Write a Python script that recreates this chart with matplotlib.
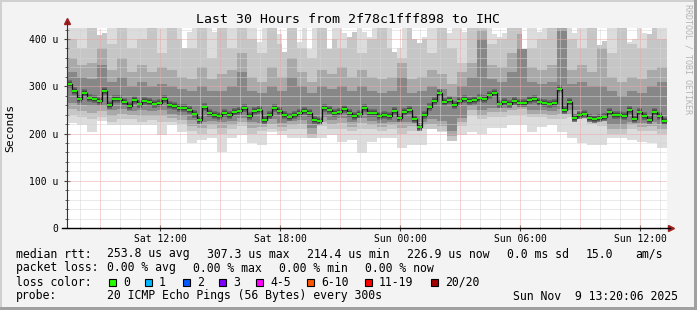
import numpy as np
import matplotlib
matplotlib.use("Agg")
import matplotlib.pyplot as plt
from matplotlib.patches import Rectangle
from matplotlib.lines import Line2D

# ---------------- data ----------------
t_start = 7 + 20 / 60 + 6 / 3600      # Sat 07:20:06 (hours from Sat 00:00)
t_end = t_start + 30

# median rtt, 15 minute steps (us)
median = [305, 291, 274, 285, 276, 273, 269, 289, 260, 272,
          272, 266, 259, 271, 263, 269, 267, 263, 264, 274,
          260, 258, 253, 255, 250, 242, 228, 256, 243, 240,
          238, 243, 240, 245, 248, 253, 236, 248, 250, 228,
          240, 253, 248, 239, 235, 240, 243, 248, 243, 228,
          227, 253, 249, 243, 246, 252, 244, 236, 241, 254,
          243, 243, 236, 240, 236, 247, 232, 245, 250, 231,
          214, 240, 257, 268, 285, 266, 271, 260, 268, 274,
          269, 271, 276, 274, 281, 285, 262, 267, 262, 268,
          264, 264, 270, 272, 267, 265, 262, 264, 295, 250,
          267, 233, 239, 241, 233, 230, 233, 234, 245, 240,
          240, 238, 250, 230, 245, 236, 228, 245, 238, 227]

# highest ping, 15 minute steps (values above the top are cut off)
ping_max = [450, 450, 450, 450, 450, 450, 408, 412, 450, 450,
            450, 450, 450, 450, 450, 450, 450, 450, 450, 450,
            450, 450, 450, 382, 415, 450, 450, 450, 450, 415,
            450, 450, 450, 450, 450, 450, 450, 450, 394, 450,
            450, 450, 410, 372, 450, 450, 394, 450, 378, 450,
            450, 450, 378, 450, 450, 412, 405, 415, 450, 415,
            405, 450, 450, 450, 450, 372, 380, 450, 450, 400,
            392, 405, 450, 450, 450, 450, 412, 450, 450, 415,
            450, 450, 450, 450, 450, 410, 405, 412, 450, 450,
            450, 378, 450, 450, 415, 450, 450, 450, 450, 450,
            450, 412, 450, 450, 450, 450, 387, 395, 450, 450,
            450, 450, 394, 400, 450, 412, 410, 450, 450, 450]

# smoke band edges, 30 minute steps (us)
ping_min = [222, 218, 204, 226, 218, 218, 218, 218, 218, 197,
            218, 204, 179, 186, 190, 161, 190, 197, 179, 176,
            204, 197, 190, 190, 197, 190, 197, 183, 186, 158,
            183, 190, 190, 169, 176, 176, 211, 204, 197, 197,
            204, 200, 211, 211, 218, 218, 204, 214, 218, 204,
            190, 179, 176, 176, 190, 190, 186, 183, 179, 169]
outer_lo = [240, 235, 230, 235, 225, 230, 230, 225, 228, 225,
            225, 220, 205, 200, 210, 200, 210, 215, 200, 205,
            210, 205, 210, 210, 190, 215, 210, 210, 205, 210,
            210, 205, 210, 200, 205, 210, 210, 205, 185, 215,
            240, 230, 235, 235, 240, 240, 235, 235, 230, 230,
            235, 230, 220, 215, 200, 200, 210, 205, 205, 200]
mid_lo = [252, 248, 244, 248, 238, 242, 240, 238, 238, 238,
          233, 228, 215, 212, 218, 212, 218, 224, 212, 214,
          220, 214, 218, 220, 200, 224, 220, 222, 214, 222,
          218, 214, 218, 212, 215, 218, 220, 216, 195, 224,
          250, 240, 245, 245, 250, 252, 242, 242, 240, 242,
          242, 240, 230, 226, 210, 210, 218, 214, 215, 210]
inner_lo = [265, 260, 258, 258, 250, 252, 248, 250, 248, 250,
            242, 238, 228, 225, 226, 224, 226, 232, 225, 222,
            230, 222, 226, 228, 212, 234, 228, 232, 224, 232,
            226, 222, 225, 224, 224, 225, 230, 226, 205, 232,
            258, 250, 255, 254, 260, 262, 250, 250, 248, 252,
            250, 250, 240, 236, 218, 218, 224, 222, 224, 220]
inner_hi = [330, 320, 315, 345, 310, 320, 300, 310, 300, 305,
            300, 295, 290, 300, 290, 290, 300, 330, 290, 285,
            300, 290, 320, 300, 285, 300, 295, 300, 290, 300,
            290, 285, 290, 320, 285, 290, 300, 295, 280, 300,
            320, 400, 315, 310, 330, 380, 310, 305, 310, 420,
            305, 310, 300, 300, 290, 280, 290, 285, 300, 310]
mid_hi = [360, 345, 350, 380, 335, 360, 330, 345, 330, 340,
          335, 320, 315, 340, 315, 325, 335, 370, 320, 310,
          340, 320, 360, 330, 310, 335, 325, 340, 320, 335,
          320, 315, 320, 350, 315, 320, 335, 325, 305, 330,
          350, 420, 345, 340, 370, 410, 340, 335, 345, 430,
          335, 345, 330, 380, 320, 310, 320, 315, 335, 340]
outer_hi = [400, 380, 430, 430, 390, 430, 380, 400, 430, 370,
            430, 400, 380, 430, 360, 430, 380, 430, 400, 370,
            430, 390, 430, 380, 360, 430, 400, 380, 430, 370,
            400, 430, 380, 360, 430, 400, 370, 430, 380, 350,
            430, 430, 390, 400, 430, 430, 380, 400, 430, 430,
            400, 380, 430, 400, 370, 430, 390, 380, 430, 400]

tick_hours = [12, 18, 24, 30, 36]
tick_labels = ["Sat 12:00", "Sat 18:00", "Sun 00:00", "Sun 06:00", "Sun 12:00"]
ytick_vals = [0, 100, 200, 300, 400]
ytick_labels = ["0", "100 u", "200 u", "300 u", "400 u"]

title = "Last 30 Hours from 2f78c1fff898 to IHC"
legend_rows = [
    (254, [(16, "median rtt:"), (107, "253.8 us avg"), (207, "307.3 us max"),
           (307, "214.4 us min"), (407, "226.9 us now"), (507, "0.0 ms sd"),
           (586, "15.0"), (635, "am/s")]),
    (268, [(16, "packet loss:"), (107, "0.00 % avg"), (193, "0.00 % max"),
           (279, "0.00 % min"), (365, "0.00 % now")]),
    (282, [(16, "loss color:")]),
    (296, [(16, "probe:"), (107, "20 ICMP Echo Pings (56 Bytes) every 300s"),
           (513, "Sun Nov  9 13:20:06 2025")]),
]
loss_names = ["0", "1", "2", "3", "4-5", "6-10", "11-19", "20/20"]
loss_colors = ["#26ff00", "#00b8ff", "#0059ff", "#7e00ff", "#ff00ff",
               "#ff5500", "#ff0000", "#a10000"]
loss_x = [109, 145, 183, 219, 256, 307, 365, 431]

# ---------------- figure ----------------
W, H = 697, 310
mono = "DejaVu Sans Mono"
fig = plt.figure(figsize=(W / 100, H / 100), dpi=100, facecolor="#f3f3f3")
ax = fig.add_axes([67 / W, 82 / H, 600 / W, 200 / H])
ax.set_facecolor("white")

ymax = 200 / 0.4725
ax.set_xlim(t_start, t_end)
ax.set_ylim(0, ymax)

t15 = t_start + 0.25 * np.arange(len(median) + 1)
hi = np.append(ping_max, ping_max[-1])

def wide(v):
    v = np.repeat(v, 2)
    return np.append(v, v[-1])

bands = [(ping_min, None, "#dcdcdc"), (outer_lo, outer_hi, "#c6c6c6"),
         (mid_lo, mid_hi, "#a9a9a9"), (inner_lo, inner_hi, "#878787")]
for i, (lo, up, c) in enumerate(bands):
    top = hi if up is None else np.minimum(wide(up), hi)
    ax.fill_between(t15, wide(lo), top, step="post", color=c, lw=0, zorder=1 + 0.1 * i)

# dark core around the median + median line
ax.hlines(median, t15[:-1], t15[1:], color="#666666", lw=5.5, zorder=1.6)
ax.hlines(median, t15[:-1], t15[1:], color="#444444", lw=3.2, zorder=1.7)
med = np.append(median, median[-1])
ax.step(t15, med, where="post", color="#111111", lw=0.9, zorder=3)
ax.hlines(median, t15[:-1], t15[1:], color="#22ee00", lw=1.5, zorder=3.1)

# grid (drawn over the smoke like rrdtool does)
ax.set_xticks(tick_hours)
ax.set_xticklabels(tick_labels)
ax.set_xticks(np.arange(8, 38, 1), minor=True)
ax.set_yticks(ytick_vals)
ax.set_yticklabels(ytick_labels)
ax.set_yticks(np.arange(0, 421, 20), minor=True)
for h in np.arange(8, 38, 1):
    if h % 3:
        ax.axvline(h, color="#d4d4d4", lw=0.72, dashes=(1, 1), zorder=2.4)
    else:
        ax.axvline(h, color="#eaa8a8", lw=0.72, dashes=(1, 1), zorder=2.5)
for v in np.arange(20, 421, 20):
    if v % 100:
        ax.axhline(v, color="#d4d4d4", lw=0.72, dashes=(1, 1), zorder=2.4)
    else:
        ax.axhline(v, color="#eaa8a8", lw=0.72, dashes=(1, 1), zorder=2.5)

for s in ax.spines.values():
    s.set_visible(False)
ax.tick_params(which="both", colors="#444444", labelcolor="black")
ax.tick_params(axis="x", which="major", direction="inout", length=4, pad=2)
ax.tick_params(axis="x", which="minor", direction="inout", length=2)
ax.tick_params(axis="y", which="major", direction="inout", length=5, pad=4)
ax.tick_params(axis="y", which="minor", direction="inout", length=3)
for lab in ax.get_xticklabels() + ax.get_yticklabels():
    lab.set_fontfamily(mono)
    lab.set_fontsize(7)

# axes with arrows
ax.add_line(Line2D([0, 0], [0, 1.03], transform=ax.transAxes, color="#333333",
                   lw=0.8, clip_on=False, zorder=4))
ax.add_line(Line2D([-0.008, 1.005], [0, 0], transform=ax.transAxes, color="black",
                   lw=1, clip_on=False, zorder=4))
ax.plot([0], [1.035], marker="^", ms=5, color="#a02020", transform=ax.transAxes, clip_on=False)
ax.plot([1.006], [0], marker=">", ms=5, color="#a02020", transform=ax.transAxes, clip_on=False)

def px(x, y):
    return x / W, 1 - y / H

fig.text(*px(10.5, 128), "Seconds", rotation=90, ha="center", va="center",
         fontfamily=mono, fontsize=8.2)
fig.text(*px(348, 19.5), title, ha="center", va="center", fontfamily=mono, fontsize=9.5)
fig.text(*px(688, 4), "RRDTOOL / TOBI OETIKER", rotation=270, ha="center", va="top",
         fontfamily=mono, fontsize=6, color="#b4b4b4")

for y, items in legend_rows:
    for x, s in items:
        fig.text(*px(x, y), s, ha="left", va="center", fontfamily=mono, fontsize=8.3)

for x, name, c in zip(loss_x, loss_names, loss_colors):
    fig.add_artist(Rectangle(px(x, 285.5), 7 / W, 7 / H, transform=fig.transFigure,
                             facecolor=c, edgecolor="black", lw=0.8))
    fig.text(*px(x + 14, 282), name, ha="left", va="center", fontfamily=mono, fontsize=8.3)

# 3d border
fig.add_artist(Rectangle((0, 0), 2 / W, 1, transform=fig.transFigure, color="#d0d0d0", lw=0))
fig.add_artist(Rectangle((0, 1 - 2 / H), 1, 2 / H, transform=fig.transFigure, color="#d0d0d0", lw=0))
fig.add_artist(Rectangle((1 - 3 / W, 0), 3 / W, 1, transform=fig.transFigure, color="#a0a0a0", lw=0))
fig.add_artist(Rectangle((0, 0), 1, 3 / H, transform=fig.transFigure, color="#a0a0a0", lw=0))

fig.savefig("out.png", dpi=100, facecolor=fig.get_facecolor())
